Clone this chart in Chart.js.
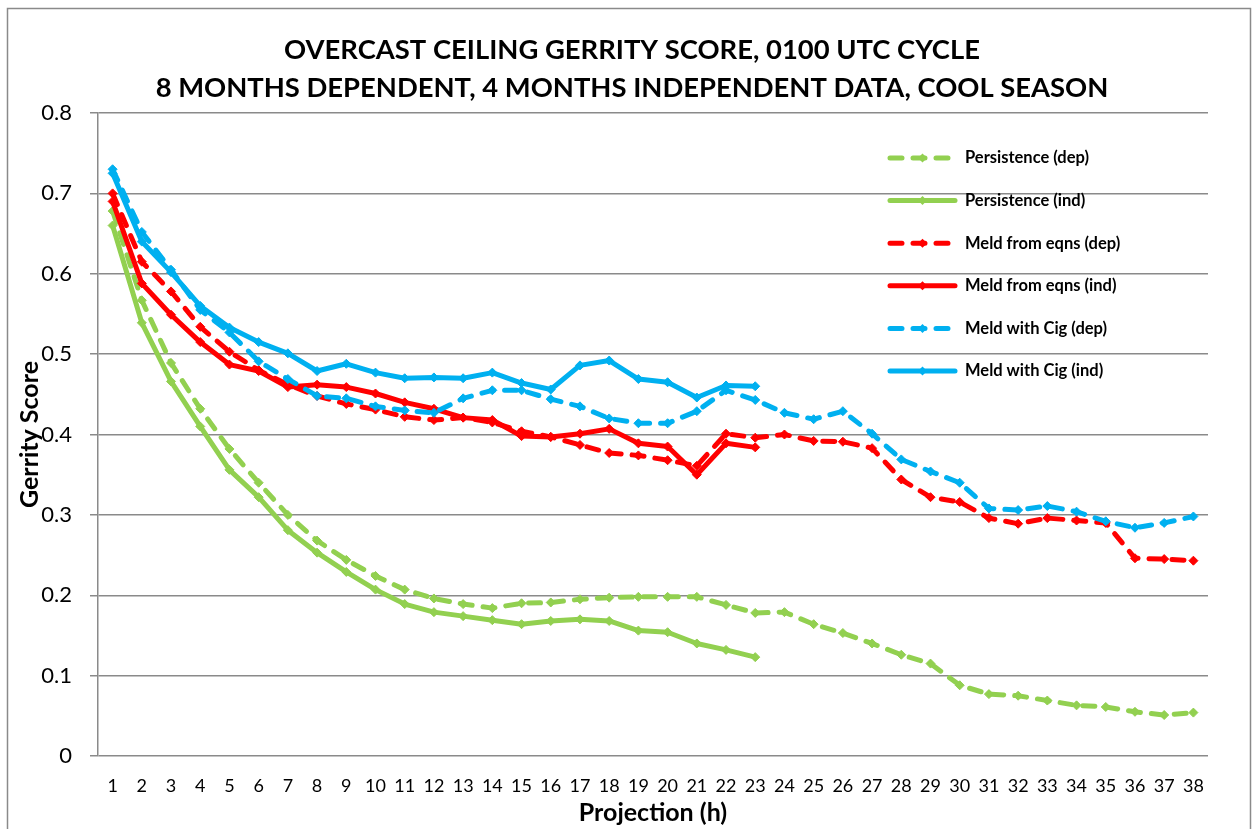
<!DOCTYPE html>
<html>
<head>
<meta charset="utf-8">
<script src="https://cdn.jsdelivr.net/npm/chart.js@4.4.1/dist/chart.umd.min.js"></script>
<style>
  html, body { margin: 0; padding: 0; background: #fff; }
  #wrap { position: relative; width: 1253px; height: 829px; }
</style>
</head>
<body>
<div id="wrap"><canvas id="c" width="1253" height="829"></canvas></div>
<script>
// ---- data ----
const categories = ["1","2","3","4","5","6","7","8","9","10","11","12","13","14","15","16","17","18","19","20","21","22","23","24","25","26","27","28","29","30","31","32","33","34","35","36","37","38"];
const yTicks = [0, 0.1, 0.2, 0.3, 0.4, 0.5, 0.6, 0.7, 0.8];
const titleLines = ["OVERCAST CEILING GERRITY SCORE, 0100 UTC CYCLE", "8 MONTHS DEPENDENT, 4 MONTHS INDEPENDENT DATA, COOL SEASON"];
const seriesNames = ["Persistence (dep)", "Persistence (ind)", "Meld from eqns (dep)", "Meld from eqns (ind)", "Meld with Cig (dep)", "Meld with Cig (ind)"];
const persistenceDep = [0.678,0.567,0.489,0.432,0.382,0.340,0.300,0.268,0.244,0.224,0.207,0.196,0.189,0.184,0.190,0.191,0.195,0.197,0.198,0.198,0.198,0.188,0.178,0.179,0.164,0.153,0.140,0.126,0.115,0.088,0.077,0.075,0.069,0.063,0.061,0.055,0.051,0.054];
const persistenceInd = [0.660,0.539,0.466,0.410,0.356,0.322,0.281,0.253,0.229,0.207,0.189,0.179,0.174,0.169,0.164,0.168,0.170,0.168,0.156,0.154,0.140,0.132,0.123];
const meldEqnsDep = [0.700,0.615,0.578,0.534,0.503,0.480,0.462,0.448,0.438,0.431,0.422,0.418,0.421,0.415,0.404,0.397,0.387,0.377,0.374,0.368,0.361,0.401,0.396,0.400,0.392,0.391,0.383,0.344,0.322,0.316,0.296,0.289,0.296,0.293,0.290,0.246,0.245,0.243];
const meldEqnsInd = [0.690,0.588,0.549,0.515,0.487,0.479,0.459,0.462,0.459,0.451,0.440,0.432,0.421,0.418,0.398,0.397,0.401,0.407,0.389,0.385,0.350,0.389,0.384];
const meldCigDep = [0.730,0.652,0.605,0.555,0.527,0.491,0.469,0.448,0.445,0.435,0.430,0.427,0.445,0.455,0.455,0.444,0.435,0.420,0.414,0.414,0.429,0.455,0.443,0.427,0.419,0.429,0.401,0.369,0.354,0.340,0.308,0.306,0.311,0.304,0.292,0.284,0.290,0.298];
const meldCigInd = [0.725,0.640,0.602,0.560,0.533,0.515,0.501,0.479,0.488,0.477,0.470,0.471,0.470,0.477,0.464,0.456,0.486,0.492,0.469,0.465,0.446,0.461,0.460];

// ---- styling ----
const FONT = "Lato, 'Open Sans', sans-serif";
const GREEN = '#92D050', RED = '#FF0000', BLUE = '#00B0F0';
const GRID = '#8a8a8a';

function mk(label, data, color, dashed, idx) {
  return {
    label, data, borderColor: color, backgroundColor: color,
    borderWidth: 5, borderDash: dashed ? [12, 11] : [],
    borderCapStyle: 'round', borderJoinStyle: 'round',
    pointStyle: 'rectRot', pointRadius: 4.5, pointBorderWidth: 1,
    pointBorderColor: color, pointBackgroundColor: color,
    tension: 0, fill: false, spanGaps: false, order: 10 - idx
  };
}

const datasets = [
  mk(seriesNames[0], persistenceDep, GREEN, true, 0),
  mk(seriesNames[1], persistenceInd, GREEN, false, 1),
  mk(seriesNames[2], meldEqnsDep, RED, true, 2),
  mk(seriesNames[3], meldEqnsInd, RED, false, 3),
  mk(seriesNames[4], meldCigDep, BLUE, true, 4),
  mk(seriesNames[5], meldCigInd, BLUE, false, 5)
];

const frameTitleLegend = {
  id: 'frameTitleLegend',
  beforeDraw(chart) {
    const ctx = chart.ctx;
    ctx.save();
    ctx.fillStyle = '#fff';
    ctx.fillRect(0, 0, chart.width, chart.height);
    ctx.strokeStyle = '#8a8a8a';
    ctx.lineWidth = 1.5;
    ctx.strokeRect(7.5, 8.5, 1243, 840);
    // title
    ctx.fillStyle = '#000';
    ctx.font = "bold 27.4px " + FONT;
    ctx.textAlign = 'center';
    ctx.textBaseline = 'middle';
    titleLines.forEach((t, i) => ctx.fillText(t, 632, 50 + i * 38));
    ctx.restore();
  },
  afterDatasetsDraw(chart) {
    const ctx = chart.ctx;
    ctx.save();
    const x0 = 888, x1 = 957, tx = 965;
    chart.data.datasets.forEach((ds, i) => {
      const y = 158 + i * 42.6;
      ctx.strokeStyle = ds.borderColor;
      ctx.lineWidth = 5;
      ctx.lineCap = 'round';
      ctx.setLineDash(ds.borderDash);
      ctx.beginPath();
      ctx.moveTo(x0 + 2, y); ctx.lineTo(x1 - 2, y);
      ctx.stroke();
      ctx.setLineDash([]);
      const mx = (x0 + x1) / 2, r = 4.5;
      ctx.fillStyle = ds.borderColor;
      ctx.beginPath();
      ctx.moveTo(mx, y - r); ctx.lineTo(mx + r, y); ctx.lineTo(mx, y + r); ctx.lineTo(mx - r, y);
      ctx.closePath(); ctx.fill();
      ctx.fillStyle = '#000';
      ctx.font = "bold 16.5px " + FONT;
      ctx.textAlign = 'left';
      ctx.textBaseline = 'middle';
      ctx.fillText(ds.label, tx, y);
    });
    ctx.restore();
  }
};

new Chart(document.getElementById('c'), {
  type: 'line',
  data: { labels: categories, datasets },
  options: {
    responsive: false,
    animation: false,
    devicePixelRatio: 1,
    layout: { padding: { top: 113, right: 45, bottom: 0, left: 0 } },
    plugins: {
      legend: { display: false },
      tooltip: { enabled: false },
      title: { display: false }
    },
    scales: {
      x: {
        type: 'category',
        offset: true,
        grid: { display: false, drawTicks: false },
        border: { display: false },
        ticks: { color: '#000', font: { family: FONT, size: 18 }, padding: 19, maxRotation: 0, autoSkip: false },
        title: { display: true, text: 'Projection (h)', color: '#000', font: { family: FONT, size: 25, weight: 'bold' }, padding: { top: 0, bottom: 1 } },
        afterFit(s) { s.height = 73; }
      },
      y: {
        min: 0, max: 0.8,
        afterBuildTicks(s) { s.ticks = yTicks.map(v => ({ value: v })); },
        grid: { color: GRID, lineWidth: 1.5, tickLength: 8, drawTicks: true },
        border: { display: true, color: GRID, width: 1.5 },
        ticks: { color: '#000', font: { family: FONT, size: 22 }, padding: 18,
          callback: v => v === 0 ? '0' : v.toFixed(1) },
        title: { display: true, text: 'Gerrity Score', color: '#000', font: { family: FONT, size: 25, weight: 'bold' }, padding: { top: 15, bottom: 0 } },
        afterFit(s) { s.width = 98; }
      }
    }
  },
  plugins: [frameTitleLegend]
});
</script>
</body>
</html>
